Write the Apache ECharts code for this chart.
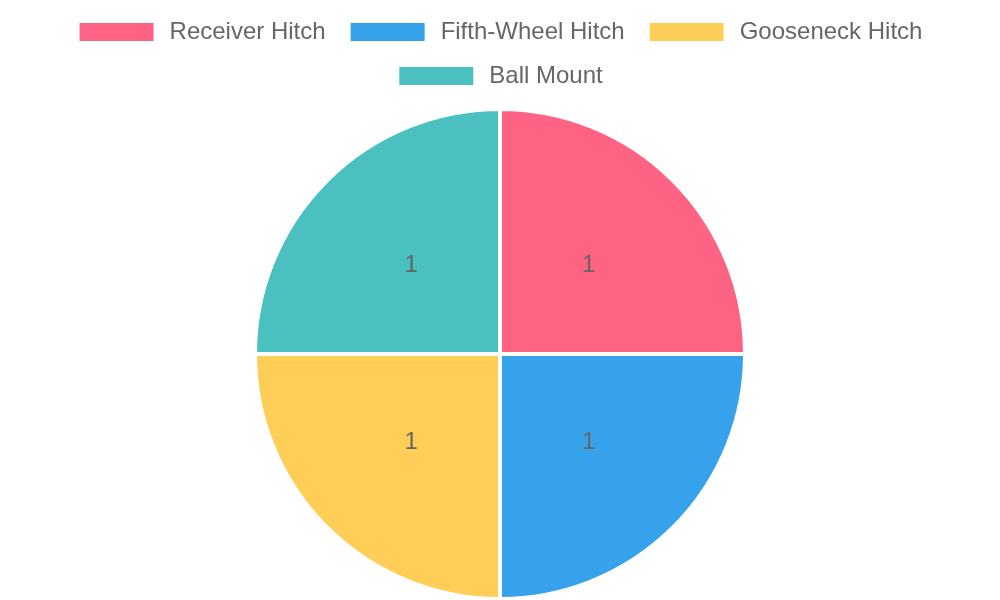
<!DOCTYPE html>
<html>
<head>
<meta charset="utf-8">
<script src="https://cdn.jsdelivr.net/npm/echarts@6/dist/echarts.min.js"></script>
<style>
    html, body { margin: 0; padding: 0; background: #fff; }
    #chart01 { width: 1000px; height: 600px; }
</style>
</head>
<body>
<div id="chart01"></div>
<script>
var categories = ['Receiver Hitch', 'Fifth-Wheel Hitch', 'Gooseneck Hitch', 'Ball Mount'];
var values = [1, 1, 1, 1];
var colors = ['#FF6384', '#36A2EB', '#FFCE56', '#4BC0C0'];

var chart01 = echarts.init(document.getElementById("chart01"), null, {renderer: 'canvas'});

var pieData = [];
for (var i = 0; i < categories.length; i++) {
    pieData.push({name: categories[i], value: values[i], itemStyle: {color: colors[i]}});
}

var legendBase = {
    orient: 'horizontal',
    left: 'center',
    itemWidth: 76,
    itemHeight: 20,
    itemGap: 23,
    icon: 'rect',
    textStyle: {
        fontFamily: 'Liberation Sans, Arial, sans-serif',
        fontSize: 24,
        color: '#666',
        padding: [0, 0, 0, 10]
    }
};

var option = {
    animation: false,
    legend: [
        Object.assign({}, legendBase, {top: 15, data: categories.slice(0, 3)}),
        Object.assign({}, legendBase, {top: 59, data: categories.slice(3)})
    ],
    series: [{
        type: 'pie',
        center: [500, 354],
        radius: [0, 245],
        startAngle: 90,
        clockwise: true,
        data: pieData,
        itemStyle: {
            borderColor: '#fff',
            borderWidth: 4
        },
        label: {
            show: true,
            position: 'inner',
            formatter: '{c}',
            fontFamily: 'Liberation Sans, Arial, sans-serif',
            fontSize: 24,
            color: '#666'
        },
        labelLine: {show: false},
        emphasis: {disabled: true}
    }]
};

if (option && typeof option === "object") {
    chart01.setOption(option, true);
}
</script>
</body>
</html>
